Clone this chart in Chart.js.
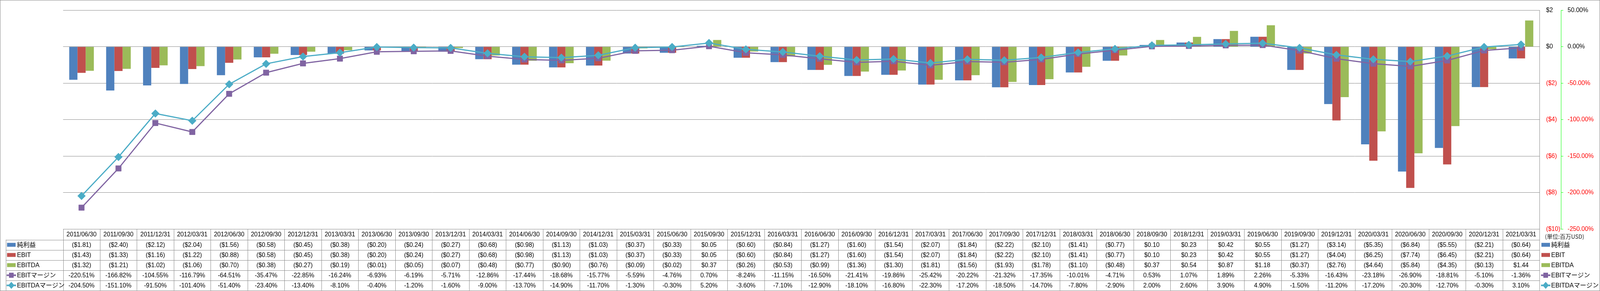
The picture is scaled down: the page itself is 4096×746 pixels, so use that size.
<!DOCTYPE html>
<html>
<head>
<meta charset="utf-8">
<script src="https://cdn.jsdelivr.net/npm/chart.js@4.4.1/dist/chart.umd.min.js"></script>
<style>
  html, body { margin: 0; padding: 0; background: #fff; }
  #wrap { width: 4096px; height: 746px; }
</style>
</head>
<body>
<div id="wrap"><canvas id="chart" width="4096" height="746"></canvas></div>
<script>
// quarter end dates
const dates = [
    '2011/06/30', '2011/09/30', '2011/12/31', '2012/03/31', '2012/06/30', '2012/09/30', '2012/12/31', '2013/03/31',
    '2013/06/30', '2013/09/30', '2013/12/31', '2014/03/31', '2014/06/30', '2014/09/30', '2014/12/31', '2015/03/31',
    '2015/06/30', '2015/09/30', '2015/12/31', '2016/03/31', '2016/06/30', '2016/09/30', '2016/12/31', '2017/03/31',
    '2017/06/30', '2017/09/30', '2017/12/31', '2018/03/31', '2018/06/30', '2018/09/30', '2018/12/31', '2019/03/31',
    '2019/06/30', '2019/09/30', '2019/12/31', '2020/03/31', '2020/06/30', '2020/09/30', '2020/12/31', '2021/03/31'
];

// millions USD
const netIncome = [
    -1.81, -2.40, -2.12, -2.04, -1.56, -0.58, -0.45, -0.38, -0.20, -0.24, -0.27, -0.68, -0.98, -1.13, -1.03, -0.37,
    -0.33, 0.05, -0.60, -0.84, -1.27, -1.60, -1.54, -2.07, -1.84, -2.22, -2.10, -1.41, -0.77, 0.10, 0.23, 0.42,
    0.55, -1.27, -3.14, -5.35, -6.84, -5.55, -2.21, -0.64
];
const ebit = [
    -1.43, -1.33, -1.16, -1.22, -0.88, -0.58, -0.45, -0.38, -0.20, -0.24, -0.27, -0.68, -0.98, -1.13, -1.03, -0.37,
    -0.33, 0.05, -0.60, -0.84, -1.27, -1.60, -1.54, -2.07, -1.84, -2.22, -2.10, -1.41, -0.77, 0.10, 0.23, 0.42,
    0.55, -1.27, -4.04, -6.25, -7.74, -6.45, -2.21, -0.64
];
const ebitda = [
    -1.32, -1.21, -1.02, -1.06, -0.70, -0.38, -0.27, -0.19, -0.01, -0.05, -0.07, -0.48, -0.77, -0.90, -0.76, -0.09,
    -0.02, 0.37, -0.26, -0.53, -0.99, -1.36, -1.30, -1.81, -1.56, -1.93, -1.78, -1.10, -0.48, 0.37, 0.54, 0.87,
    1.18, -0.37, -2.76, -4.64, -5.84, -4.35, -0.13, 1.44
];

// percent
const ebitMargin = [
    -220.51, -166.82, -104.55, -116.79, -64.51, -35.47, -22.85, -16.24, -6.93, -6.19, -5.71, -12.86, -17.44, -18.68,
    -15.77, -5.59, -4.76, 0.70, -8.24, -11.15, -16.50, -21.41, -19.86, -25.42, -20.22, -21.32, -17.35, -10.01,
    -4.71, 0.53, 1.07, 1.89, 2.26, -5.33, -16.43, -23.18, -26.90, -18.81, -5.10, -1.36
];
const ebitdaMargin = [
    -204.50, -151.10, -91.50, -101.40, -51.40, -23.40, -13.40, -8.10, -0.40, -1.20, -1.60, -9.00, -13.70, -14.90,
    -11.70, -1.30, -0.30, 5.20, -3.60, -7.10, -12.90, -18.10, -16.80, -22.30, -17.20, -18.50, -14.70, -7.80,
    -2.90, 2.00, 2.60, 3.90, 4.90, -1.50, -11.20, -17.20, -20.30, -12.70, -0.30, 3.10
];

// axis ranges
const moneyAxis = { min: -10, max: 2, step: 2 };
const percentAxis = { min: -250, max: 50, step: 50 };
const unitLabel = '(単位:百万USD)';

const colors = {
    net: '#4F81BD',
    ebit: '#C0504D',
    ebitda: '#9BBB59',
    ebitMargin: '#8064A2',
    ebitdaMargin: '#4BACC6'
};

const FONT = '"Liberation Sans", "Noto Sans CJK JP", sans-serif';
const TEXT_SIZE = 15.6;

function fmtMoney(v) {
    if (v < 0) return '($' + Math.abs(v).toFixed(2) + ')';
    return '$' + v.toFixed(2);
}
function fmtPct(v) {
    return v.toFixed(2) + '%';
}

// little legend symbol for a row
function drawKey(ctx, kind, color, x, y) {
    ctx.save();
    ctx.fillStyle = color;
    ctx.strokeStyle = color;
    if (kind === 'bar') {
        ctx.fillRect(x, y - 5, 22, 10);
    } else {
        ctx.lineWidth = 4;
        ctx.beginPath();
        ctx.moveTo(x - 1, y);
        ctx.lineTo(x + 23, y);
        ctx.stroke();
        if (kind === 'square') {
            ctx.fillRect(x + 5, y - 6.5, 12, 13);
        } else {
            ctx.beginPath();
            ctx.moveTo(x + 11, y - 9);
            ctx.lineTo(x + 19, y);
            ctx.lineTo(x + 11, y + 9);
            ctx.lineTo(x + 3, y);
            ctx.closePath();
            ctx.fill();
        }
    }
    ctx.restore();
}

const tableRows = [
    { label: '純利益', values: netIncome, fmt: fmtMoney, color: colors.net, kind: 'bar' },
    { label: 'EBIT', values: ebit, fmt: fmtMoney, color: colors.ebit, kind: 'bar' },
    { label: 'EBITDA', values: ebitda, fmt: fmtMoney, color: colors.ebitda, kind: 'bar' },
    { label: 'EBITマージン', values: ebitMargin, fmt: fmtPct, color: colors.ebitMargin, kind: 'square' },
    { label: 'EBITDAマージン', values: ebitdaMargin, fmt: fmtPct, color: colors.ebitdaMargin, kind: 'diamond' }
];

// draws the data table under the plot, the side legend and the frame
const tablePlugin = {
    id: 'dataTable',
    afterDraw(chart) {
        const ctx = chart.ctx;
        const area = chart.chartArea;
        const n = dates.length;
        const colW = (area.right - area.left) / n;
        const headTop = area.bottom;
        const headBottom = headTop + 27.2;
        const rowH = 26;
        const tableLeft = 14.9;
        const tableBottom = headBottom + rowH * tableRows.length;

        ctx.save();
        ctx.strokeStyle = '#898989';
        ctx.lineWidth = 1;
        ctx.beginPath();
        // horizontal lines
        for (let r = 0; r <= tableRows.length; r++) {
            const y = Math.round(headBottom + r * rowH) + 0.5;
            ctx.moveTo(tableLeft, y);
            ctx.lineTo(area.right, y);
        }
        // left border of label column
        ctx.moveTo(Math.round(tableLeft) + 0.5, headBottom);
        ctx.lineTo(Math.round(tableLeft) + 0.5, tableBottom);
        // column lines
        for (let i = 0; i <= n; i++) {
            const x = Math.round(area.left + i * colW) + 0.5;
            ctx.moveTo(x, headTop);
            ctx.lineTo(x, tableBottom);
        }
        ctx.stroke();

        ctx.fillStyle = '#000';
        ctx.textAlign = 'center';
        ctx.textBaseline = 'middle';
        ctx.font = TEXT_SIZE + 'px ' + FONT;
        const xs = chart.scales.x;
        for (let i = 0; i < n; i++) {
            const cx = xs.getPixelForValue(i);
            ctx.fillText(dates[i], cx, (headTop + headBottom) / 2 + 1);
            tableRows.forEach((row, r) => {
                const cy = headBottom + r * rowH + rowH / 2 + 1;
                ctx.fillText(row.fmt(row.values[i]), cx, cy);
            });
        }

        // row labels left and legend on the right
        ctx.textAlign = 'left';
        ctx.font = '16px ' + FONT;
        tableRows.forEach((row, r) => {
            const cy = headBottom + r * rowH + rowH / 2;
            drawKey(ctx, row.kind, row.color, 18, cy);
            ctx.fillStyle = '#000';
            ctx.fillText(row.label, 43.5, cy + 1);
            drawKey(ctx, row.kind, row.color, area.right + 5, cy);
            ctx.fillStyle = '#000';
            ctx.fillText(row.label, area.right + 30, cy + 1);
        });

        ctx.font = '14.5px "Noto Sans CJK JP", sans-serif';
        ctx.fillStyle = '#222';
        ctx.fillText(unitLabel, area.right + 14, headTop + 19.5);

        // outer frame
        ctx.strokeStyle = '#868686';
        ctx.strokeRect(0.5, 0.5, chart.width - 1, chart.height - 1);
        ctx.restore();
    }
};

const ctx = document.getElementById('chart').getContext('2d');
const chart = new Chart(ctx, {
    type: 'bar',
    data: {
        labels: dates,
        datasets: [
            {
                type: 'line', label: 'EBITDAマージン', data: ebitdaMargin, yAxisID: 'y1', order: 0,
                borderColor: colors.ebitdaMargin, backgroundColor: colors.ebitdaMargin, borderWidth: 3,
                pointStyle: 'rectRot', pointRadius: 10, pointBorderWidth: 1, tension: 0
            },
            {
                type: 'line', label: 'EBITマージン', data: ebitMargin, yAxisID: 'y1', order: 1,
                borderColor: colors.ebitMargin, backgroundColor: colors.ebitMargin, borderWidth: 3,
                pointStyle: 'rect', pointRadius: 10, pointBorderWidth: 1, tension: 0
            },
            { label: '純利益', data: netIncome, backgroundColor: colors.net, yAxisID: 'y', order: 2 },
            { label: 'EBIT', data: ebit, backgroundColor: colors.ebit, yAxisID: 'y', order: 2 },
            { label: 'EBITDA', data: ebitda, backgroundColor: colors.ebitda, yAxisID: 'y', order: 2 }
        ]
    },
    options: {
        responsive: false,
        animation: false,
        devicePixelRatio: 1,
        datasets: {
            bar: { categoryPercentage: 0.667, barPercentage: 1.0 }
        },
        layout: {
            padding: { left: 161.5, top: 10.4, bottom: 158.6, right: 0 }
        },
        plugins: {
            legend: { display: false },
            tooltip: { enabled: false }
        },
        scales: {
            x: { display: false },
            y: {
                position: 'right',
                weight: 0,
                min: moneyAxis.min,
                max: moneyAxis.max,
                afterFit: function(scale) { scale.width = 55; },
                border: { display: true, color: '#888', width: 1 },
                grid: { color: '#888', lineWidth: 1, drawTicks: false },
                ticks: {
                    stepSize: moneyAxis.step,
                    padding: 17,
                    font: { family: FONT, size: TEXT_SIZE },
                    color: function(c) { return c.tick.value < 0 ? '#FF0000' : '#000'; },
                    callback: function(value) {
                        if (value < 0) return '($' + Math.abs(value) + ')';
                        return '$' + value;
                    }
                }
            },
            y1: {
                position: 'right',
                weight: 1,
                min: percentAxis.min,
                max: percentAxis.max,
                afterFit: function(scale) { scale.width = 100; },
                border: { display: true, color: '#00FF00', width: 1, dash: [3, 3] },
                grid: { drawOnChartArea: false, drawTicks: true, tickLength: 6, color: '#00FF00' },
                ticks: {
                    stepSize: percentAxis.step,
                    padding: 11,
                    font: { family: FONT, size: TEXT_SIZE },
                    color: function(c) { return c.tick.value < 0 ? '#FF0000' : '#000'; },
                    callback: function(value) { return value.toFixed(2) + '%'; }
                }
            }
        }
    },
    plugins: [tablePlugin]
});
</script>
</body>
</html>
